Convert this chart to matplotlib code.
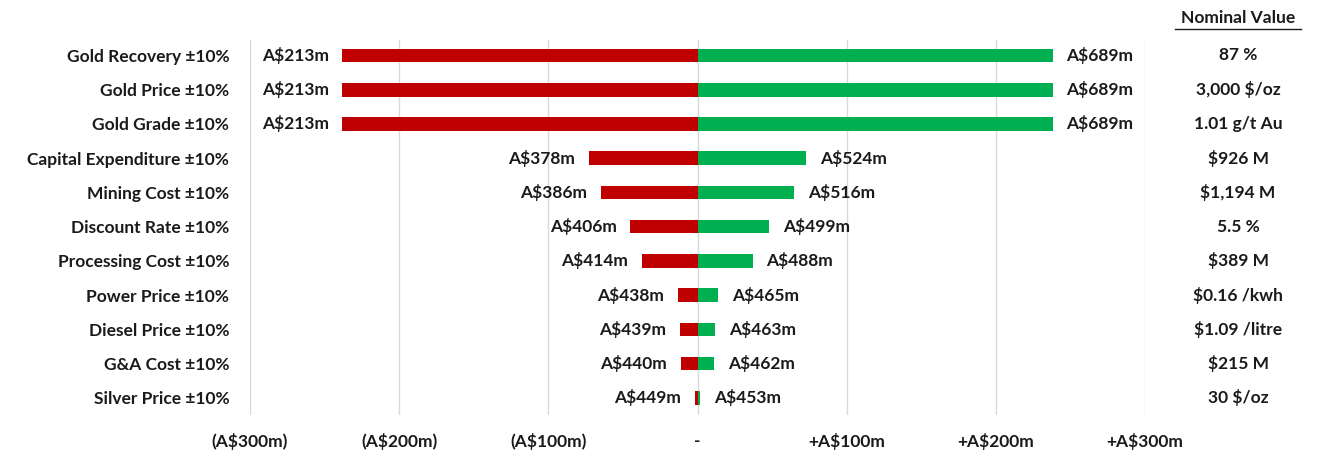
import matplotlib
matplotlib.use("Agg")
import matplotlib.pyplot as plt
from matplotlib.transforms import blended_transform_factory

plt.rcParams['text.parse_math'] = False
plt.rcParams['font.family'] = ['Lato', 'DejaVu Sans']
plt.rcParams['font.weight'] = 'bold'

base_npv = 451

drivers = ["Gold Recovery ±10%", "Gold Price ±10%", "Gold Grade ±10%",
           "Capital Expenditure ±10%", "Mining Cost ±10%", "Discount Rate ±10%",
           "Processing Cost ±10%", "Power Price ±10%", "Diesel Price ±10%",
           "G&A Cost ±10%", "Silver Price ±10%"]
low_npv = [213, 213, 213, 378, 386, 406, 414, 438, 439, 440, 449]
high_npv = [689, 689, 689, 524, 516, 499, 488, 465, 463, 462, 453]
nominal = ["87 %", "3,000 $/oz", "1.01 g/t Au", "$926 M", "$1,194 M", "5.5 %",
           "$389 M", "$0.16 /kwh", "$1.09 /litre", "$215 M", "30 $/oz"]

tick_vals = [-300, -200, -100, 0, 100, 200, 300]
tick_text = ["(A$300m)", "(A$200m)", "(A$100m)", "-", "+A$100m", "+A$200m", "+A$300m"]

red = "#C00000"
green = "#00B050"
txt = "#1a1a1a"
fs = 12.5

fig = plt.figure(figsize=(13.17, 4.55), dpi=100)
ax = fig.add_axes([250 / 1317, 1 - 415 / 455, 895 / 1317, 375 / 455])

ys = list(range(len(drivers)))
lo = [v - base_npv for v in low_npv]
hi = [v - base_npv for v in high_npv]
ax.barh(ys, lo, height=0.4, color=red, zorder=3)
ax.barh(ys, hi, height=0.4, color=green, zorder=3)

for y, d_lo, d_hi, v_lo, v_hi in zip(ys, lo, hi, low_npv, high_npv):
    ax.annotate(f"A${v_lo}m", (d_lo, y), xytext=(-10, 0), textcoords="offset points",
                ha="right", va="center", fontsize=fs, color=txt)
    ax.annotate(f"A${v_hi}m", (d_hi, y), xytext=(10, 0), textcoords="offset points",
                ha="left", va="center", fontsize=fs, color=txt)

ax.set_xlim(-300, 300)
ax.set_ylim(len(drivers) - 0.5, -0.45)
ax.set_xticks(tick_vals)
ax.set_xticklabels(tick_text, fontsize=fs, color=txt)
ax.set_yticks(ys)
ax.set_yticklabels(drivers, fontsize=fs, color=txt)
ax.tick_params(axis="x", length=0, pad=13)
ax.tick_params(axis="y", length=0, pad=15)
ax.grid(axis="x", color="#d9d9d9", linewidth=1, zorder=0)
for s in ax.spines.values():
    s.set_visible(False)

# nominal value column on the right
tr = blended_transform_factory(fig.transFigure, ax.transData)
for y, n in zip(ys, nominal):
    ax.text(1238 / 1317, y, n, transform=tr, ha="center", va="center",
            fontsize=fs, color=txt)
fig.text(1238 / 1317, 1 - 18 / 455, "Nominal Value", ha="center", va="center",
         fontsize=fs, color=txt)
fig.add_artist(plt.Line2D([1175 / 1317, 1301 / 1317], [1 - 29 / 455, 1 - 29 / 455],
                          transform=fig.transFigure, color=txt, linewidth=1))

fig.savefig("out.png", dpi=100, facecolor="white")
